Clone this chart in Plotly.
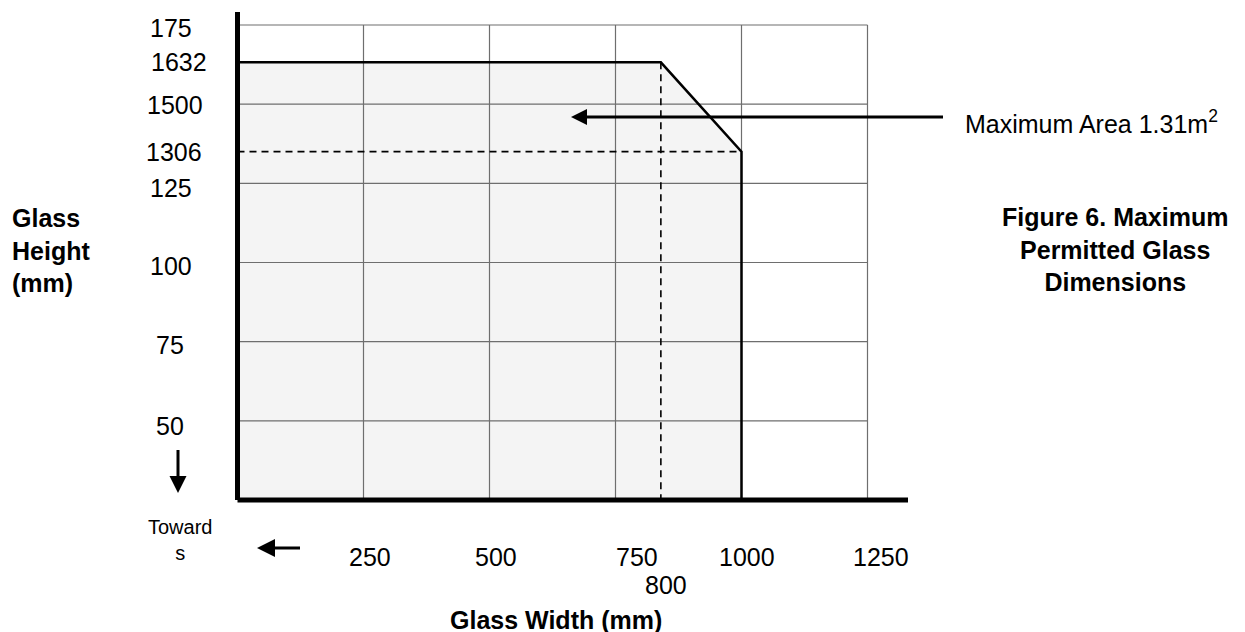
import plotly.graph_objects as go

# ---------------- data ----------------
grid_widths = [250, 500, 750, 1000, 1250]          # mm
grid_heights = [500, 750, 1000, 1250, 1500, 1750]  # axis units
width_tick_vals = [250, 500, 750, 1000, 1250]
width_tick_text = ["250", "500", "750", "1000", "1250"]
height_tick_vals = [1750, 1632, 1500, 1350, 1250, 1000, 750, 500]
height_tick_text = ["175", "1632", "1500", "1306", "125", "100", "75", "50"]
envelope_width = [0, 840, 1000, 1000]
envelope_height = [1632, 1632, 1350, 250]
base_height = 250
corner_width = 840      # drawn position of the "800" mark
corner_height = 1350    # drawn position of the "1306" mark
corner_width_text = "800"
area_text = "Maximum Area 1.31m<sup>2</sup>"

# ---------------- layout helpers (screen-pixel geometry) ----------------
W, H = 1245, 632
OFF = 8                      # body margin of the html page
X0PX, XSCALE = 237.5, 250 / 126.0
Y0PX, YSCALE = 500.0, 250 / 79.17


def X(px):
    return (px - X0PX) * XSCALE


def Y(py):
    return base_height + (Y0PX - py) * YSCALE


def xp(px):
    return (px - OFF) / W


def yp(py):
    return (OFF + H - py) / H


FONT = "Liberation Sans, Arial, sans-serif"
fig = go.Figure()

# filled envelope
fig.add_trace(go.Scatter(
    x=envelope_width + [0, 0], y=envelope_height + [base_height, envelope_height[0]],
    fill="toself", fillcolor="#f4f4f4", mode="none", hoverinfo="skip"))

# grid lines
gx, gy = [], []
for h in grid_heights:
    gx += [0, grid_widths[-1], None]
    gy += [h, h, None]
for w in grid_widths:
    gx += [w, w, None]
    gy += [base_height, grid_heights[-1], None]
fig.add_trace(go.Scatter(x=gx, y=gy, mode="lines",
                         line=dict(color="#6e6e6e", width=1.2), hoverinfo="skip"))

# dashed reference lines
fig.add_trace(go.Scatter(
    x=[0, envelope_width[-1], None, corner_width, corner_width],
    y=[corner_height, corner_height, None, envelope_height[0], base_height],
    mode="lines", line=dict(color="black", width=1.6, dash="7px,5px"), hoverinfo="skip"))

# envelope outline
fig.add_trace(go.Scatter(x=envelope_width, y=envelope_height, mode="lines",
                         line=dict(color="black", width=2.5), hoverinfo="skip"))

# thick axes
fig.add_trace(go.Scatter(x=[0, 0, None, 0, X(908)],
                         y=[Y(12), base_height, None, base_height, base_height],
                         mode="lines", line=dict(color="black", width=5), hoverinfo="skip"))


# arrows: (tail, tip, head size) in screen pixels
def arrow(tail, tip, symbol, size):
    (tx, ty), (hx, hy) = tail, tip
    d = max(abs(tx - hx) + abs(ty - hy), 1)
    ex = hx + (tx - hx) * (size * 0.6) / d
    ey = hy + (ty - hy) * (size * 0.6) / d
    fig.add_trace(go.Scatter(x=[X(tx), X(ex)], y=[Y(ty), Y(ey)], mode="lines",
                             line=dict(color="black", width=3), hoverinfo="skip"))
    fig.add_trace(go.Scatter(x=[X(hx)], y=[Y(hy)], mode="markers", cliponaxis=False,
                             marker=dict(symbol=symbol, size=size, color="black",
                                         line=dict(width=0)), hoverinfo="skip"))


arrow((943, 117), (571, 117), "arrow-left", 16)
arrow((300, 548), (257, 548), "arrow-left", 18)
arrow((178, 450), (178, 493), "arrow-down", 17)

ann = []
# y tick labels
ytick_x = [171, 179, 175, 174, 171, 171, 170, 170]
ytick_shift = [-3, 0, -1, 0, -5, -4, -3, -5]
for v, t, px, s in zip(height_tick_vals, height_tick_text, ytick_x, ytick_shift):
    ann.append(dict(x=xp(px), xref="paper", y=v, yref="y", text=t, showarrow=False,
                    xanchor="center", yanchor="middle", yshift=s,
                    font=dict(size=25, color="black", family=FONT)))
# x tick labels
xtick_shift = [6, 6, 21, 5, 13]
for v, t, s in zip(width_tick_vals, width_tick_text, xtick_shift):
    ann.append(dict(x=v, xref="x", y=yp(557), yref="paper", text=t, showarrow=False,
                    xanchor="center", yanchor="middle", xshift=s,
                    font=dict(size=25, color="black", family=FONT)))
ann.append(dict(x=corner_width, xref="x", y=yp(585), yref="paper", text=corner_width_text,
                showarrow=False, xanchor="center", yanchor="middle", xshift=5,
                font=dict(size=25, color="black", family=FONT)))

# titles and notes
ann.append(dict(x=xp(556), xref="paper", y=yp(620), yref="paper", text="<b>Glass Width (mm)</b>",
                showarrow=False, xanchor="center", yanchor="middle",
                font=dict(size=25, color="black", family=FONT)))
ann.append(dict(x=xp(10), xref="paper", y=yp(250), yref="paper",
                text="<b>Glass<br>Height<br>(mm)</b>", align="left",
                showarrow=False, xanchor="left", yanchor="middle",
                font=dict(size=25, color="black", family=FONT)))
ann.append(dict(x=xp(1115), xref="paper", y=yp(249), yref="paper",
                text="<b>Figure 6. Maximum<br>Permitted Glass<br>Dimensions</b>", align="center",
                showarrow=False, xanchor="center", yanchor="middle",
                font=dict(size=25, color="black", family=FONT)))
ann.append(dict(x=xp(963), xref="paper", y=yp(122), yref="paper", text=area_text,
                showarrow=False, xanchor="left", yanchor="middle",
                font=dict(size=25, color="black", family=FONT)))
ann.append(dict(x=xp(180), xref="paper", y=yp(540), yref="paper", text="Toward<br>s",
                align="center", showarrow=False, xanchor="center", yanchor="middle",
                font=dict(size=20, color="black", family=FONT)))

fig.update_layout(
    width=W, height=H, autosize=False,
    margin=dict(l=0, r=0, t=0, b=0, pad=0),
    paper_bgcolor="white", plot_bgcolor="white",
    showlegend=False, annotations=ann,
    xaxis=dict(range=[X(OFF), X(OFF + W)], visible=False, fixedrange=True),
    yaxis=dict(range=[Y(OFF + H), Y(OFF)], visible=False, fixedrange=True),
)
fig.write_html("out.html")
